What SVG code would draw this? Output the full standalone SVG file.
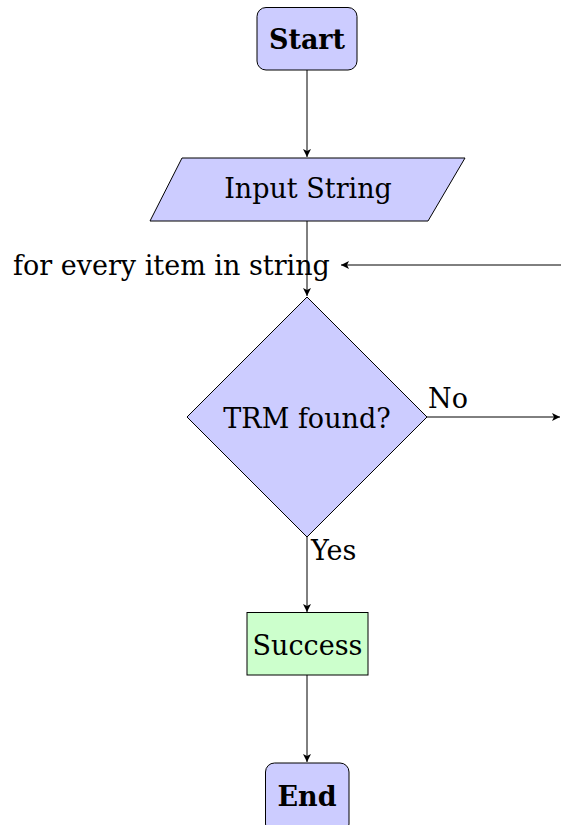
<svg xmlns="http://www.w3.org/2000/svg" width="561" height="825" viewBox="0 0 561 825">
<defs>
<style>
.t{font-family:"DejaVu Serif","Liberation Serif",serif;font-size:27px;fill:#000}
.b{font-weight:bold}
.blue{fill:#ccccff;stroke:#000;stroke-width:1}
.green{fill:#ccffcc;stroke:#000;stroke-width:1}
.c{fill:none;stroke:#000;stroke-width:1}
</style>
<marker id="ah" markerWidth="10" markerHeight="8" refX="8" refY="4" orient="auto" markerUnits="userSpaceOnUse">
<path d="M0,0 L8,4 L0,8 L2,4 Z" fill="#000"/>
</marker>
</defs>
<rect width="561" height="825" fill="#fff"/>
<g id="connectors">
<line class="c" x1="307" y1="70" x2="307" y2="157" marker-end="url(#ah)"/>
<line class="c" x1="307" y1="221" x2="307" y2="296" marker-end="url(#ah)"/>
<line class="c" x1="561" y1="265" x2="341" y2="265" marker-end="url(#ah)"/>
<line class="c" x1="427" y1="417" x2="560" y2="417" marker-end="url(#ah)"/>
<line class="c" x1="307" y1="537" x2="307" y2="612" marker-end="url(#ah)"/>
<line class="c" x1="307" y1="675" x2="307" y2="762" marker-end="url(#ah)"/>
<text class="t" x="428" y="408">No</text>
<text class="t" x="311" y="560">Yes</text>
</g>
<g id="start">
<rect class="blue" x="257" y="7.5" width="100" height="62.5" rx="9"/>
<text class="t b" x="307" y="49" text-anchor="middle">Start</text>
</g>
<g id="input">
<polygon class="blue" points="182,158 465,158 428,221 150,221"/>
<text class="t" x="308" y="198" text-anchor="middle">Input String</text>
</g>
<g id="loop">
<text class="t" x="13" y="275">for every item in string</text>
</g>
<g id="decision">
<polygon class="blue" points="307,297 427,417 307,537 187,417"/>
<text class="t" x="307" y="428" text-anchor="middle">TRM found?</text>
</g>
<g id="success">
<rect class="green" x="247" y="612.5" width="121" height="62.5"/>
<text class="t" x="307.5" y="655" text-anchor="middle">Success</text>
</g>
<g id="end">
<rect class="blue" x="265.5" y="763" width="83.5" height="70" rx="9"/>
<text class="t b" x="307" y="806" text-anchor="middle">End</text>
</g>
</svg>
